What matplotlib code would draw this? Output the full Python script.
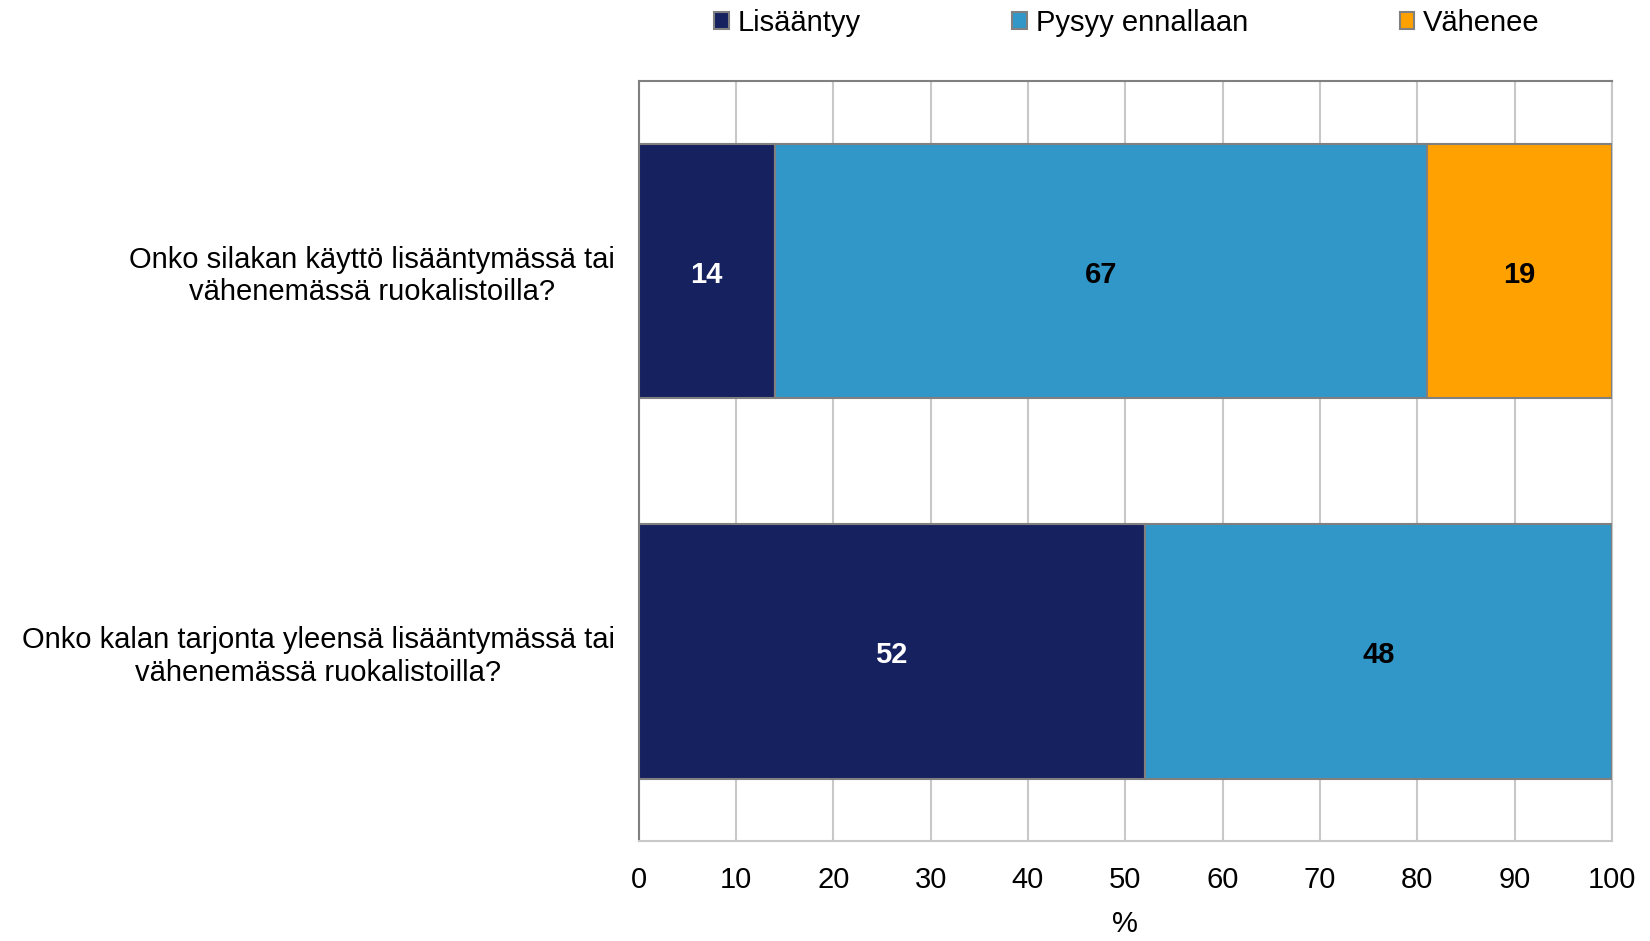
"""Stacked horizontal bar chart: kalan käyttö ruokalistoilla."""
import numpy as np
import matplotlib
matplotlib.use("Agg")
import matplotlib.pyplot as plt
from matplotlib.patches import Patch

plt.rcParams["font.family"] = ["Liberation Sans", "DejaVu Sans"]

categories = [
    "Onko silakan käyttö lisääntymässä tai\nvähenemässä ruokalistoilla?",
    "Onko kalan tarjonta yleensä lisääntymässä tai\nvähenemässä ruokalistoilla?",
]
series_names = ["Lisääntyy", "Pysyy ennallaan", "Vähenee"]
lisaantyy = [14, 52]
pysyy = [67, 48]
vahenee = [19, 0]
colors = ["#16215f", "#3196c8", "#ffa100"]
label_colors = ["white", "black", "black"]
xticks = [0, 10, 20, 30, 40, 50, 60, 70, 80, 90, 100]

FS = 21

fig = plt.figure(figsize=(16.5, 9.41), dpi=100)
ax = fig.add_axes([0.387, 0.106, 0.590, 0.808])

y = np.arange(len(categories))
left = np.zeros(len(categories))
for vals, name, col, tcol in zip([lisaantyy, pysyy, vahenee], series_names, colors, label_colors):
    vals = np.array(vals, dtype=float)
    ax.barh(y, vals, left=left, height=0.67, color=col, edgecolor="#808080",
            linewidth=1.5, zorder=3, label=name)
    for yi, (l, v) in enumerate(zip(left, vals)):
        if v > 0:
            ax.text(l + v / 2, yi + 0.01, f"{int(v)}", ha="center", va="center",
                    color=tcol, fontsize=FS, fontweight="bold", zorder=4)
    left += vals

ax.set_ylim(1.5, -0.5)
ax.set_xlim(0, 100)
ax.set_xticks(xticks)
ax.set_xticklabels([str(t) for t in xticks], fontsize=FS)
ax.set_yticks(y)
ax.set_yticklabels(categories, fontsize=FS, multialignment="center")
ax.tick_params(axis="both", length=0)
ax.tick_params(axis="x", pad=18)
ax.tick_params(axis="y", pad=17)
ax.xaxis.grid(True, color="#c8c8c8", linewidth=1.5, zorder=0)
ax.set_axisbelow(True)
for side in ["left", "top"]:
    ax.spines[side].set_color("#808080")
    ax.spines[side].set_linewidth(1.5)
for side in ["right", "bottom"]:
    ax.spines[side].set_color("#c8c8c8")
    ax.spines[side].set_linewidth(1.5)
ax.set_xlabel("%", fontsize=FS, labelpad=11)

handles = [Patch(facecolor=c, edgecolor="#808080", linewidth=1.5) for c in colors]
fig.legend(handles, series_names, loc="center", bbox_to_anchor=(0.683, 0.976),
           ncol=3, frameon=False, fontsize=FS, handlelength=0.5, handleheight=0.5,
           handletextpad=0.3, columnspacing=5.2)

fig.savefig("out.png", dpi=100, facecolor="white")
